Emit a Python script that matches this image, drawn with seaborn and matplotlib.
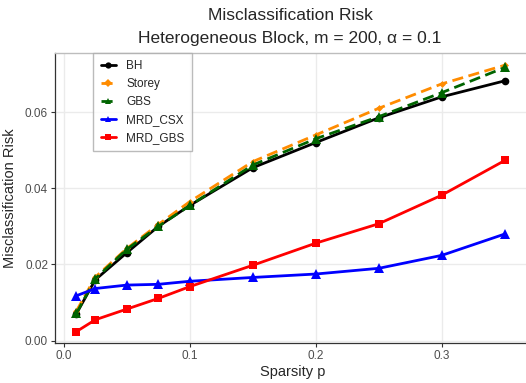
import matplotlib
matplotlib.use("Agg")
import matplotlib.pyplot as plt
import seaborn as sns
import pandas as pd

sparsity = [0.01, 0.025, 0.05, 0.075, 0.1, 0.15, 0.2, 0.25, 0.3, 0.35]
bh = [0.0071, 0.0160, 0.0231, 0.0300, 0.0355, 0.0454, 0.0520, 0.0585, 0.0640, 0.0682]
storey = [0.0078, 0.0167, 0.0242, 0.0305, 0.0365, 0.0470, 0.0540, 0.0610, 0.0674, 0.0723]
gbs = [0.0072, 0.0163, 0.0240, 0.0300, 0.0355, 0.0461, 0.0530, 0.0588, 0.0651, 0.0717]
mrd_csx = [0.0118, 0.0137, 0.0146, 0.0148, 0.0156, 0.0166, 0.0175, 0.0190, 0.0224, 0.0280]
mrd_gbs = [0.0024, 0.0055, 0.0083, 0.0111, 0.0142, 0.0198, 0.0256, 0.0307, 0.0382, 0.0473]
methods = ["BH", "Storey", "GBS", "MRD_CSX", "MRD_GBS"]
x_ticks = [0.0, 0.1, 0.2, 0.3]
y_ticks = [0.00, 0.02, 0.04, 0.06]

series = dict(zip(methods, [bh, storey, gbs, mrd_csx, mrd_gbs]))
df = pd.concat([pd.DataFrame({"p": sparsity, "risk": v, "Method": k}) for k, v in series.items()],
               ignore_index=True)

palette = {"BH": "black", "Storey": "#FF8C00", "GBS": "#006400", "MRD_CSX": "#0000FF", "MRD_GBS": "#FF0000"}
markers = {"BH": "o", "Storey": "D", "GBS": "^", "MRD_CSX": "^", "MRD_GBS": "s"}
dashes = {"BH": "", "Storey": (4, 2), "GBS": (4, 2), "MRD_CSX": "", "MRD_GBS": ""}
msizes = {"BH": 5.5, "Storey": 3.5, "GBS": 6.5, "MRD_CSX": 6.5, "MRD_GBS": 5.5}

sns.set_style("white")
plt.rcParams['font.family'] = ['Liberation Sans', 'DejaVu Sans']

fig = plt.figure(figsize=(5.26, 3.83), dpi=100)
ax = fig.add_axes([55/526, 1 - 343/383, 1 - 55/526 + 0.01, (343 - 53)/383])

sns.lineplot(data=df, x="p", y="risk", hue="Method", style="Method", hue_order=methods,
             style_order=methods, palette=palette, markers=markers, dashes=dashes,
             linewidth=2, markersize=6, markeredgewidth=0, ax=ax, legend=True)

for line, m in zip(ax.get_lines()[:5], methods):
    line.set_markersize(msizes[m])

ax.set_xlim(-0.007, 0.371)
ax.set_ylim(-0.0006, 0.0755)
ax.set_xticks(x_ticks)
ax.set_xticklabels([f"{t:.1f}" for t in x_ticks])
ax.set_yticks(y_ticks)
ax.set_yticklabels([f"{t:.2f}" for t in y_ticks])
ax.grid(True, color="#EBEBEB", linewidth=1)
ax.set_axisbelow(True)
ax.tick_params(axis="both", length=3, width=0.8, color="#333333", labelcolor="#4D4D4D",
               labelsize=8.5, direction="out", bottom=True, left=True, pad=2)
for s in ["left", "bottom"]:
    ax.spines[s].set_color("#333333")
    ax.spines[s].set_linewidth(0.9)
ax.spines["top"].set_color("#BDBDBD")
ax.spines["top"].set_linewidth(1)
ax.spines["right"].set_visible(False)

ax.set_xlabel("Sparsity p", fontsize=10.5, labelpad=2)
ax.set_ylabel("Misclassification Risk", fontsize=10.5, labelpad=6)
fig.text(290/526, 1 - 16/383, "Misclassification Risk", ha="center", va="center", fontsize=12.5)
fig.text(290/526, 1 - 38/383, "Heterogeneous Block, m = 200, α = 0.1", ha="center", va="center", fontsize=12.5)

handles, labels = ax.get_legend_handles_labels()
for h in handles:
    h.set_markersize(h.get_markersize() * 0.75)
    h.set_linewidth(2)
leg = ax.legend(handles, labels, loc="upper left", bbox_to_anchor=((93 - 55)/471, 1.0),
                frameon=True, fancybox=False, edgecolor="#AAAAAA", fontsize=8.5,
                handlelength=1.3, borderpad=0.6, labelspacing=0.5, handletextpad=0.9,
                borderaxespad=0.0)
leg.get_frame().set_linewidth(1)

fig.savefig("out.png", dpi=100)
